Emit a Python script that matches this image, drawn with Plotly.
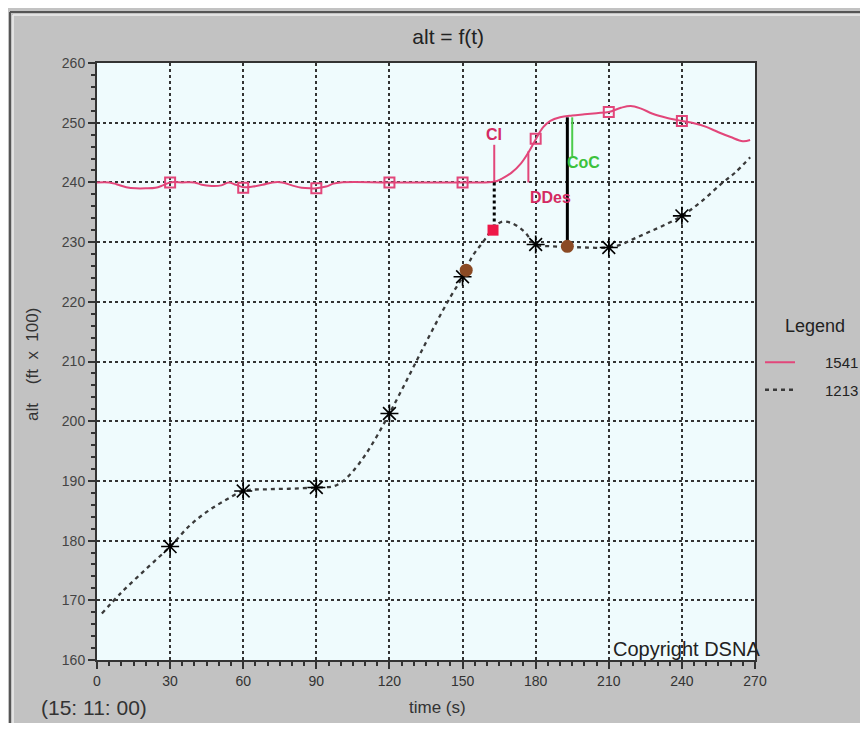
import plotly.graph_objects as go

# ---- data ----
t1541 = [0, 5, 8, 12, 16, 20, 24, 27, 30, 35, 40, 43, 47, 51, 54, 57, 60, 64, 68, 72, 76, 80, 84, 88, 90,
         94, 97, 100, 120, 150, 163, 166, 170, 174, 177, 180, 183, 186, 190, 195, 200, 205, 210, 215, 219,
         223, 228, 234, 240, 245, 250, 255, 260, 265, 268]
a1541 = [240, 240, 239.7, 239.2, 239.0, 239.0, 239.1, 239.5, 240, 240, 240, 239.6, 239.4, 239.5, 240, 239.6,
         239.2, 239.3, 239.6, 240, 240, 239.5, 239.1, 239.0, 239.0, 239.3, 239.8, 240, 240, 240, 240.1, 240.6,
         241.6, 243.2, 245.0, 247.2, 249.2, 250.3, 250.9, 251.2, 251.4, 251.6, 251.8, 252.5, 252.8, 252.4,
         251.5, 250.8, 250.3, 249.9, 249.3, 248.4, 247.6, 246.9, 247.1]
m1541_t = [30, 60, 90, 120, 150, 180, 210, 240]
m1541_a = [240, 239.1, 239.0, 240, 240, 247.3, 251.8, 250.3]

t1213 = [2, 10, 20, 30, 38, 45, 52, 60, 70, 80, 90, 97, 101, 105, 110, 115, 120, 125, 130, 135, 140, 145,
         150, 154, 158, 162, 166, 170, 175, 180, 186, 193, 200, 210, 215, 220, 226, 232, 240, 248, 256, 262, 268]
a1213 = [167.8, 171.3, 175.2, 179.0, 182.5, 184.8, 186.6, 188.3, 188.6, 188.7, 188.9, 189.1, 190.0, 191.6,
         194.3, 197.6, 201.3, 205.2, 209.2, 213.2, 217.1, 220.8, 224.2, 227.6, 229.8, 232.0, 233.4, 233.2,
         231.9, 229.6, 229.3, 229.2, 229.1, 229.1, 229.6, 230.5, 231.6, 232.7, 234.4, 236.8, 239.7, 241.7, 244.2]
m1213_t = [30, 60, 90, 120, 150, 180, 210, 240]
m1213_a = [179.0, 188.3, 188.9, 201.3, 224.2, 229.6, 229.1, 234.4]

# events
ci_t, ci_lo, ci_hi = 163, 240, 246.3
ci_sep_lo = 232.3
ci_sq_t, ci_sq_a = 162.5, 232.0
ddes_t, ddes_lo, ddes_hi = 177, 240, 245.2
coc_t, coc_lo, coc_hi = 193, 229.3, 250.9
cocg_t, cocg_lo, cocg_hi = 195, 244.3, 250.9
brown_t = [151.5, 193]
brown_a = [225.3, 229.3]

x_ticks = [0, 30, 60, 90, 120, 150, 180, 210, 240, 270]
y_ticks = [160, 170, 180, 190, 200, 210, 220, 230, 240, 250, 260]

PINK = "#e2467a"
DARK = "#3a3a3a"
FONT = "Liberation Sans"
NB = "\u00a0"

fig = go.Figure()

# main lines
fig.add_trace(go.Scatter(x=t1541, y=a1541, mode="lines", name=NB * 6 + "1541", legendgroup="a",
                         line=dict(color=PINK, width=2), line_shape="spline"))
fig.add_trace(go.Scatter(x=t1213, y=a1213, mode="lines", name=NB * 6 + "1213", legendgroup="b",
                         line=dict(color=DARK, width=2.3, dash="4px,4px"), line_shape="spline"))

# markers
fig.add_trace(go.Scatter(x=m1541_t, y=m1541_a, mode="markers", showlegend=False,
                         marker=dict(symbol="square-open", size=10, color=PINK, line=dict(width=2, color=PINK))))
fig.add_trace(go.Scatter(x=m1213_t, y=m1213_a, mode="markers", showlegend=False,
                         marker=dict(symbol="asterisk-open", size=15, color="black", line=dict(width=1.6, color="black"))))

# event lines
fig.add_trace(go.Scatter(x=[ci_t, ci_t], y=[ci_lo, ci_hi], mode="lines", showlegend=False,
                         line=dict(color=PINK, width=2)))
fig.add_trace(go.Scatter(x=[ci_t, ci_t], y=[ci_lo, ci_sep_lo], mode="lines", showlegend=False,
                         line=dict(color="black", width=3, dash="dot")))
fig.add_trace(go.Scatter(x=[ddes_t, ddes_t], y=[ddes_lo, ddes_hi], mode="lines", showlegend=False,
                         line=dict(color=PINK, width=2)))
fig.add_trace(go.Scatter(x=[coc_t, coc_t], y=[coc_lo, coc_hi], mode="lines", showlegend=False,
                         line=dict(color="black", width=3)))
fig.add_trace(go.Scatter(x=[cocg_t, cocg_t], y=[cocg_lo, cocg_hi], mode="lines", showlegend=False,
                         line=dict(color="#4ccc4c", width=2)))
fig.add_trace(go.Scatter(x=[ci_sq_t], y=[ci_sq_a], mode="markers", showlegend=False,
                         marker=dict(symbol="square", size=11, color="#ee1848")))
fig.add_trace(go.Scatter(x=brown_t, y=brown_a, mode="markers", showlegend=False,
                         marker=dict(symbol="circle", size=13, color="#8b4a24")))

# page offset (body margin) compensation: figure fits inside the 868x731 window
OFF = 8
W, H = 868 - 2 * OFF, 731 - 2 * OFF
L, T = 97 - OFF, 63 - OFF
R = W - (755 - OFF)
B = H - (660 - OFF)
pw, ph = W - L - R, H - T - B


def px(x):
    return (x - OFF - L) / pw


def py(y):
    return (H - B - (y - OFF)) / ph


def cx(x):
    return (x - OFF) / W


def cy(y):
    return 1 - (y - OFF) / H


ytitle = "alt" + NB * 4 + "(ft" + NB * 2 + "x" + NB * 2 + "100)"

annotations = [
    dict(x=ci_t, y=ci_hi, xref="x", yref="y", text="<b>CI</b>", showarrow=False, yanchor="bottom",
         font=dict(color="#d42a62", size=16, family=FONT)),
    dict(x=186, y=237.4, xref="x", yref="y", text="<b>DDes</b>", showarrow=False,
         font=dict(color="#d42a62", size=16, family=FONT)),
    dict(x=199.5, y=243.3, xref="x", yref="y", text="<b>CoC</b>", showarrow=False,
         font=dict(color="#3cc23c", size=16, family=FONT)),
    dict(x=px(762), y=py(649), xref="paper", yref="paper", text="Copyright DSNA", showarrow=False,
         xanchor="right", yanchor="middle", font=dict(color="#222", size=20, family=FONT)),
    dict(x=px(94), y=py(708), xref="paper", yref="paper", text="(15: 11: 00)", showarrow=False,
         xanchor="center", yanchor="middle", font=dict(color="#333", size=21, family=FONT)),
    dict(x=px(438), y=py(708), xref="paper", yref="paper", text="time (s)", showarrow=False,
         xanchor="center", yanchor="middle", font=dict(color="#333", size=17, family=FONT)),
    dict(x=px(32), y=py(365), xref="paper", yref="paper", text=ytitle, showarrow=False,
         xanchor="center", yanchor="middle",
         textangle=-90, font=dict(color="#333", size=17, family=FONT)),
    dict(x=px(815), y=py(326), xref="paper", yref="paper", text="Legend", showarrow=False,
         xanchor="center", yanchor="middle", font=dict(color="#222", size=18, family=FONT)),
]

shapes = [
    dict(type="line", xref="paper", yref="paper", x0=px(10), x1=px(10), y0=py(12), y1=py(740), line=dict(color="#555", width=2)),
    dict(type="line", xref="paper", yref="paper", x0=px(10), x1=px(870), y0=py(12), y1=py(12), line=dict(color="#555", width=2)),
    dict(type="line", xref="paper", yref="paper", x0=px(13), x1=px(870), y0=py(15), y1=py(15), line=dict(color="#ececec", width=1.5)),
    dict(type="line", xref="paper", yref="paper", x0=px(13), x1=px(13), y0=py(15), y1=py(740), line=dict(color="#ececec", width=1.5)),
]

axis_common = dict(showline=True, linecolor="#333", linewidth=2, mirror=True,
                   ticks="outside", ticklen=7, tickwidth=2, tickcolor="#333",
                   showgrid=True, gridcolor="#333", gridwidth=1.5, griddash="dot",
                   zeroline=False)

fig.update_layout(
    width=W, height=H,
    margin=dict(l=L, r=R, t=T, b=B, autoexpand=False),
    paper_bgcolor="#c2c2c2",
    plot_bgcolor="#effbfd",
    title=dict(text="alt = f(t)", x=px(437), xanchor="center", y=1 - (37 - OFF) / H, yanchor="middle",
               yref="container", font=dict(family=FONT, size=21, color="#222")),
    xaxis=dict(range=[0, 270], tickvals=x_ticks, ticktext=[str(v) for v in x_ticks],
               minor=dict(dtick=5, ticklen=4, ticks="outside", tickcolor="#333", showgrid=False),
               tickfont=dict(family=FONT, size=14, color="#333"),
               automargin=False, **axis_common),
    yaxis=dict(range=[160, 260], tickvals=y_ticks, ticktext=[str(v) for v in y_ticks],
               minor=dict(dtick=2, ticklen=4, ticks="outside", tickcolor="#333", showgrid=False),
               tickfont=dict(family=FONT, size=14, color="#444"),
               automargin=False, **axis_common),
    legend=dict(xref="container", yref="container", x=cx(760), y=cy(346), xanchor="left", yanchor="top",
                font=dict(family=FONT, size=15, color="#222"), bgcolor="rgba(0,0,0,0)",
                itemwidth=30, tracegroupgap=5),
    showlegend=True,
    annotations=annotations,
    shapes=shapes,
)

fig.write_html("out.html")
